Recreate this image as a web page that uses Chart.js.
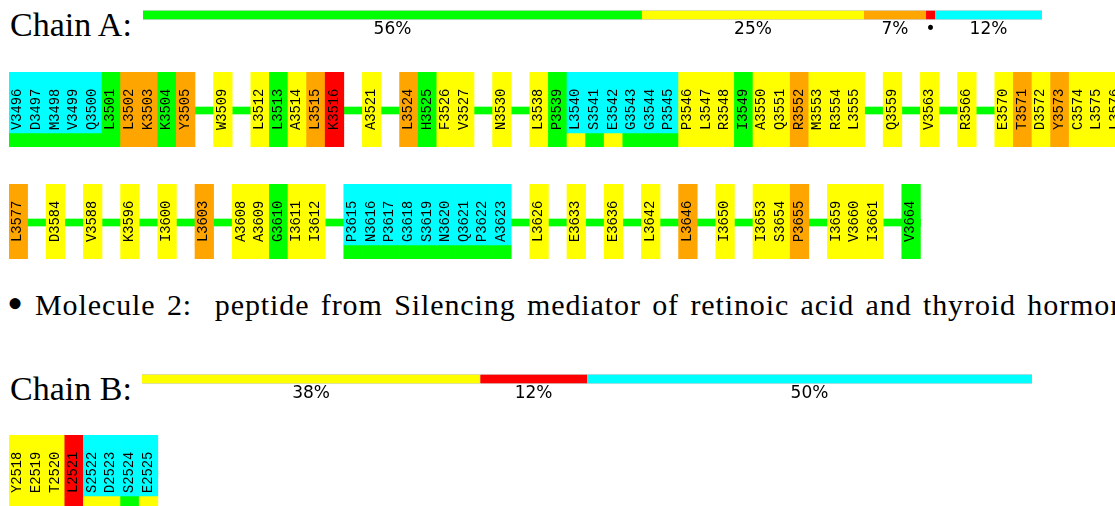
<!DOCTYPE html>
<html>
<head>
<meta charset="utf-8">
<script src="https://cdn.jsdelivr.net/npm/chart.js@4/dist/chart.umd.min.js"></script>
<style>
    html, body { margin: 0; padding: 0; background: #fff; }
    body { width: 1115px; height: 506px; overflow: hidden; position: relative; }
    canvas { position: absolute; }
    .tex { position: absolute; font-family: "Liberation Serif", serif; color: #000; white-space: pre; line-height: 1; }
</style>
</head>
<body>
<div class="tex" id="chain_a_title" style="left:10px; top:8px; font-size:34px;">Chain A:</div>
<canvas id="summary_a" width="899" height="45" style="left:143px; top:0px;"></canvas>
<canvas id="row_a1" width="1116" height="75" style="left:9px; top:72px;"></canvas>
<canvas id="row_a2" width="1116" height="75" style="left:9px; top:184px;"></canvas>
<div class="tex" style="left:7px; top:281px; font-size:46px;">•</div>
<div class="tex" id="molecule_title" style="left:35px; top:290px; font-size:30px; letter-spacing:0.9px; word-spacing:3px;">Molecule 2:  peptide from Silencing mediator of retinoic acid and thyroid hormone receptor</div>
<div class="tex" id="chain_b_title" style="left:10px; top:372px; font-size:34px;">Chain B:</div>
<canvas id="summary_b" width="890" height="45" style="left:142px; top:364px;"></canvas>
<canvas id="row_b1" width="1116" height="75" style="left:9px; top:435px;"></canvas>
<script>
// quality colours used by the report
const qualityColors = { G: '#00ff00', Y: '#ffff00', O: '#ffa500', R: '#ff0000', C: '#00ffff' };

// chain summary bars (percent of residues)
const summaryALabels = ['56%', '25%', '7%', '•', '12%'];
const summaryAValues = [55.5, 24.7, 6.9, 1.0, 11.9];
const summaryAQuality = ['G', 'Y', 'O', 'R', 'C'];

const summaryBLabels = ['38%', '12%', '50%'];
const summaryBValues = [38, 12, 50];
const summaryBQuality = ['Y', 'R', 'C'];

// residue rows, null = gap in the sequence display
const rowA1Residues = ['V3496', 'D3497', 'M3498', 'V3499', 'Q3500', 'L3501', 'L3502', 'K3503', 'K3504', 'Y3505',
    null, 'W3509', null, 'L3512', 'L3513', 'A3514', 'L3515', 'K3516', null, 'A3521',
    null, 'L3524', 'H3525', 'F3526', 'V3527', null, 'N3530', null, 'L3538', 'P3539',
    'L3540', 'S3541', 'E3542', 'G3543', 'G3544', 'P3545', 'P3546', 'L3547', 'R3548', 'I3549',
    'A3550', 'Q3551', 'R3552', 'M3553', 'R3554', 'L3555', null, 'Q3559', null, 'V3563',
    null, 'R3566', null, 'E3570', 'T3571', 'D3572', 'Y3573', 'C3574', 'L3575', 'L3576'];
const rowA1Quality = ['G', 'G', 'G', 'G', 'G', 'G', 'O', 'O', 'G', 'O',
    null, 'Y', null, 'Y', 'G', 'Y', 'O', 'R', null, 'Y',
    null, 'O', 'G', 'Y', 'Y', null, 'Y', null, 'Y', 'G',
    'Y', 'G', 'Y', 'G', 'G', 'G', 'Y', 'Y', 'Y', 'G',
    'Y', 'Y', 'O', 'Y', 'Y', 'Y', null, 'Y', null, 'Y',
    null, 'Y', null, 'Y', 'O', 'Y', 'O', 'Y', 'Y', 'Y'];

const rowA2Residues = ['L3577', null, 'D3584', null, 'V3588', null, 'K3596', null, 'I3600', null,
    'L3603', null, 'A3608', 'A3609', 'G3610', 'I3611', 'I3612', null, 'P3615', 'N3616',
    'P3617', 'G3618', 'S3619', 'N3620', 'Q3621', 'P3622', 'A3623', null, 'L3626', null,
    'E3633', null, 'E3636', null, 'L3642', null, 'L3646', null, 'I3650', null,
    'I3653', 'S3654', 'P3655', null, 'I3659', 'V3660', 'I3661', null, 'V3664'];
const rowA2Quality = ['O', null, 'Y', null, 'Y', null, 'Y', null, 'Y', null,
    'O', null, 'Y', 'Y', 'G', 'Y', 'Y', null, 'G', 'G',
    'G', 'G', 'G', 'G', 'G', 'G', 'G', null, 'Y', null,
    'Y', null, 'Y', null, 'Y', null, 'O', null, 'Y', null,
    'Y', 'Y', 'O', null, 'Y', 'Y', 'Y', null, 'G'];

const rowB1Residues = ['Y2518', 'E2519', 'T2520', 'L2521', 'S2522', 'D2523', 'S2524', 'E2525'];
const rowB1Quality = ['Y', 'Y', 'Y', 'R', 'Y', 'Y', 'G', 'Y'];

// residues absent from the model (cyan)
const unmodelledA = ['V3496', 'D3497', 'M3498', 'V3499', 'Q3500', 'L3540', 'S3541', 'E3542', 'G3543', 'G3544',
    'P3545', 'P3615', 'N3616', 'P3617', 'G3618', 'S3619', 'N3620', 'Q3621', 'P3622', 'A3623'];
const unmodelledB = ['S2522', 'D2523', 'S2524', 'E2525'];

const CELLS_PER_ROW = 60;

const segmentLabels = {
    id: 'segmentLabels',
    afterDatasetsDraw(chart, args, opts) {
        const ctx = chart.ctx;
        ctx.save();
        ctx.font = '17px "DejaVu Sans"';
        ctx.fillStyle = '#000';
        ctx.textAlign = 'center';
        ctx.textBaseline = 'middle';
        chart.data.datasets.forEach((ds, i) => {
            const bar = chart.getDatasetMeta(i).data[0];
            ctx.fillText(opts.labels[i], (bar.x + bar.base) / 2, bar.y + 15);
        });
        ctx.restore();
    }
};

const residueLabels = {
    id: 'residueLabels',
    afterDatasetsDraw(chart, args, opts) {
        const ctx = chart.ctx;
        const meta = chart.getDatasetMeta(0);
        const y = chart.scales.y.getPixelForValue(17);
        ctx.save();
        ctx.font = '13.8px "Liberation Mono"';
        ctx.fillStyle = '#000';
        ctx.textAlign = 'left';
        ctx.textBaseline = 'middle';
        opts.names.forEach((name, i) => {
            if (!name) return;
            ctx.save();
            ctx.translate(meta.data[i].x - 0.5, y);
            ctx.rotate(-Math.PI / 2);
            ctx.fillText(name, 0, 0);
            ctx.restore();
        });
        ctx.restore();
    }
};

function summaryChart(id, labels, values, quality) {
    new Chart(document.getElementById(id), {
        type: 'bar',
        data: {
            labels: [''],
            datasets: values.map((v, i) => ({
                data: [v],
                backgroundColor: qualityColors[quality[i]],
                borderColor: '#d4d4d4',
                borderWidth: { top: 1, bottom: 1, left: 0, right: 0 },
                borderSkipped: false,
                barThickness: 10
            }))
        },
        options: {
            indexAxis: 'y',
            responsive: false,
            animation: false,
            layout: { padding: { bottom: 15 } },
            scales: {
                x: { display: false, stacked: true, min: 0, max: values.reduce((a, b) => a + b, 0) },
                y: { display: false, stacked: true }
            },
            plugins: {
                legend: { display: false },
                tooltip: { enabled: false },
                segmentLabels: { labels: labels }
            }
        },
        plugins: [segmentLabels]
    });
}

function residueRow(id, names, quality, unmodelled, backboneToEnd) {
    let cells = [];
    for (let i = 0; i < CELLS_PER_ROW; i++) cells.push(String(i));
    let first = names.findIndex(n => n);
    let last = names.length - 1;
    while (!names[last]) last--;
    if (backboneToEnd) last = CELLS_PER_ROW - 1;
    let common = { grouped: false, barPercentage: 1, categoryPercentage: 1, borderWidth: 0 };
    new Chart(document.getElementById(id), {
        type: 'bar',
        data: {
            labels: cells,
            datasets: [
                Object.assign({
                    label: 'residue',
                    order: 1,
                    data: names.map(n => n ? [14, 75] : null),
                    backgroundColor: names.map((n, i) => n ? (unmodelled.includes(n) ? qualityColors.C : qualityColors[quality[i]]) : 'transparent')
                }, common),
                Object.assign({
                    label: 'quality',
                    order: 1,
                    data: names.map(n => n ? [0, 14] : null),
                    backgroundColor: names.map((n, i) => n ? qualityColors[quality[i]] : 'transparent')
                }, common),
                Object.assign({
                    label: 'backbone',
                    order: 5,
                    data: cells.map((c, i) => (i >= first && i <= last) ? [33, 40] : null),
                    backgroundColor: qualityColors.G
                }, common)
            ]
        },
        options: {
            responsive: false,
            animation: false,
            scales: {
                x: { display: false },
                y: { display: false, min: 0, max: 75 }
            },
            plugins: {
                legend: { display: false },
                tooltip: { enabled: false },
                residueLabels: { names: names }
            }
        },
        plugins: [residueLabels]
    });
}

document.addEventListener('DOMContentLoaded', function() {
    summaryChart('summary_a', summaryALabels, summaryAValues, summaryAQuality);
    summaryChart('summary_b', summaryBLabels, summaryBValues, summaryBQuality);
    residueRow('row_a1', rowA1Residues, rowA1Quality, unmodelledA, true);
    residueRow('row_a2', rowA2Residues, rowA2Quality, unmodelledA, false);
    residueRow('row_b1', rowB1Residues, rowB1Quality, unmodelledB, false);
});
</script>
</body>
</html>
